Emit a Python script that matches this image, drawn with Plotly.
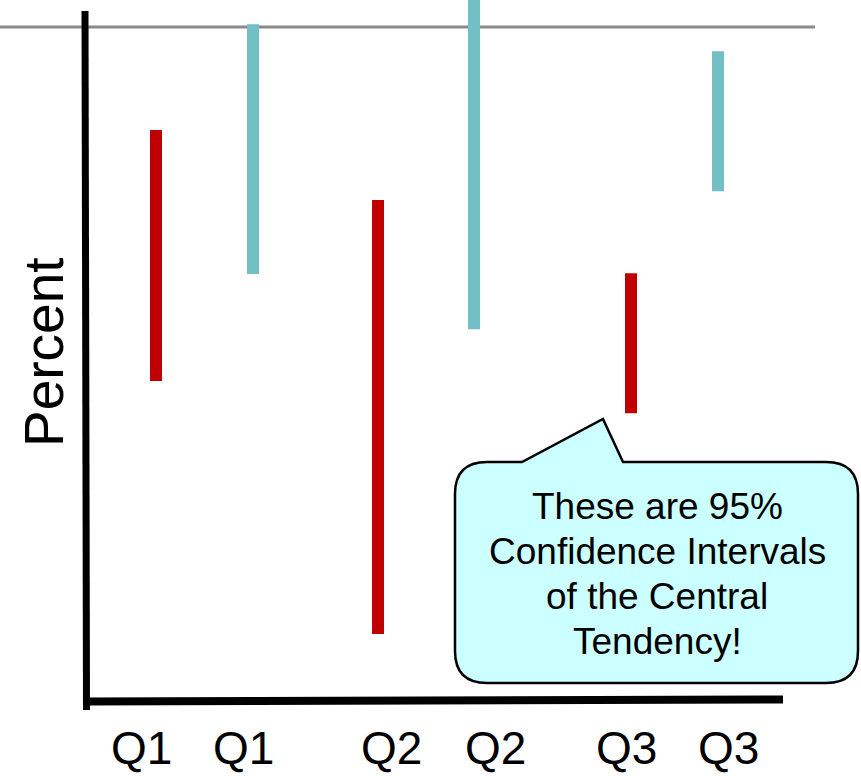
import plotly.graph_objects as go

# ---- data ----
quarters = ["Q1", "Q2", "Q3"]
red_low = [47.4, 9.8, 42.6]
red_high = [84.7, 74.3, 63.4]
teal_low = [63.3, 55.1, 75.6]
teal_high = [100.4, 106.0, 96.4]
reference_level = 100.0
y_label = "Percent"
callout_lines = ["These are 95%", "Confidence Intervals", "of the Central", "Tendency!"]

# ---- layout helpers (positions in horizontal pixel units) ----
W, H = 861, 776
red_x = [156, 378, 631]
teal_x = [253, 474, 718]
red_lab_x = [141, 391, 626]
teal_lab_x = [243, 495, 728]
PX_PER_UNIT = 6.73
Y0_PX = 700
def val(py):
    return (Y0_PX - py) / PX_PER_UNIT
def px(x):
    return x / W
def py(y):
    return 1 - y / H

RED = "#C00000"
TEAL = "#72BFC5"
FONT = "Liberation Sans, Arial, sans-serif"
NARROW = "Liberation Sans Narrow, Arial Narrow, Liberation Sans, sans-serif"

fig = go.Figure()
fig.add_trace(go.Bar(x=red_x, base=red_low,
                     y=[h - l for h, l in zip(red_high, red_low)],
                     width=12, marker=dict(color=RED, line=dict(width=0)),
                     showlegend=False, hoverinfo="skip"))
fig.add_trace(go.Bar(x=teal_x, base=teal_low,
                     y=[h - l for h, l in zip(teal_high, teal_low)],
                     width=12, marker=dict(color=TEAL, line=dict(width=0)),
                     showlegend=False, hoverinfo="skip"))

shapes = []
# reference gray line
shapes.append(dict(type="line", xref="x", yref="y", x0=0, x1=815,
                   y0=reference_level, y1=reference_level,
                   line=dict(color="#8a8a8a", width=3), layer="below"))
# hand-drawn axes
shapes.append(dict(type="line", xref="x", yref="y", x0=85, x1=86.5,
                   y0=val(11), y1=val(710), line=dict(color="black", width=7)))
shapes.append(dict(type="line", xref="x", yref="y", x0=83, x1=783,
                   y0=val(701.5), y1=val(699.5), line=dict(color="black", width=8)))

# callout bubble path (pixel coords -> paper)
L, R, T, B, r = 455, 858, 462, 683, 32
path = (f"M {px(L+r)},{py(T)} L {px(522)},{py(T)} L {px(603)},{py(419)} L {px(623)},{py(T)} "
        f"L {px(R-r)},{py(T)} Q {px(R)},{py(T)} {px(R)},{py(T+r)} "
        f"L {px(R)},{py(B-r)} Q {px(R)},{py(B)} {px(R-r)},{py(B)} "
        f"L {px(L+r)},{py(B)} Q {px(L)},{py(B)} {px(L)},{py(B-r)} "
        f"L {px(L)},{py(T+r)} Q {px(L)},{py(T)} {px(L+r)},{py(T)} Z")
shapes.append(dict(type="path", xref="paper", yref="paper", path=path,
                   fillcolor="#CCFFFF", line=dict(color="black", width=2.5)))

annotations = []
for q, x in zip(quarters, red_lab_x):
    annotations.append(dict(x=x, y=val(748), xref="x", yref="y", text=q, showarrow=False,
                            font=dict(family=NARROW, size=46, color="black"),
                            xanchor="center", yanchor="middle"))
for q, x in zip(quarters, teal_lab_x):
    annotations.append(dict(x=x, y=val(748), xref="x", yref="y", text=q, showarrow=False,
                            font=dict(family=NARROW, size=46, color="black"),
                            xanchor="center", yanchor="middle"))
annotations.append(dict(x=px(44), y=py(352), xref="paper", yref="paper", text=y_label,
                        showarrow=False, textangle=-90,
                        font=dict(family=FONT, size=55, color="black"),
                        xanchor="center", yanchor="middle"))
for i, line in enumerate(callout_lines):
    annotations.append(dict(x=px(657), y=py(506 + 45 * i), xref="paper", yref="paper",
                            text=line, showarrow=False,
                            font=dict(family=FONT, size=37, color="black"),
                            xanchor="center", yanchor="middle"))

fig.update_layout(
    width=W, height=H, margin=dict(l=0, r=0, t=0, b=0),
    paper_bgcolor="white", plot_bgcolor="white",
    xaxis=dict(range=[0, W], visible=False, fixedrange=True),
    yaxis=dict(range=[val(H), val(0)], visible=False, fixedrange=True),
    shapes=shapes, annotations=annotations, barmode="overlay",
    showlegend=False,
)

fig.write_html("out.html", config={"displayModeBar": False},
               post_script="document.body.style.margin='0';document.body.style.overflow='hidden';")
